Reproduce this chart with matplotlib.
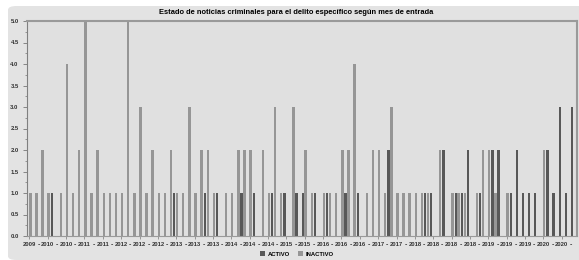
import matplotlib
matplotlib.use("Agg")
import matplotlib.pyplot as plt
from matplotlib.patches import FancyBboxPatch, Patch
import numpy as np

# month-of-entry buckets (one per bar group), labels shown every 3rd group
tick_years = ["2009", "2010", "2010", "2011", "2011", "2012", "2012", "2012", "2013", "2013",
              "2013", "2014", "2014", "2014", "2015", "2015", "2016", "2016", "2016", "2017",
              "2017", "2018", "2018", "2018", "2018", "2019", "2019", "2019", "2020", "2020"]

inactivo = [1, 1, 2, 1, 0, 1, 4, 1, 2, 5,
            1, 2, 1, 1, 1, 1, 5, 1, 3, 1,
            2, 1, 1, 2, 1, 1, 3, 1, 2, 2,
            1, 0, 1, 1, 2, 2, 2, 0, 2, 1,
            3, 1, 0, 3, 0, 2, 1, 0, 1, 1,
            1, 2, 2, 4, 0, 1, 2, 2, 1, 3,
            1, 1, 1, 1, 1, 1, 0, 2, 0, 1,
            1, 1, 0, 1, 2, 2, 1, 0, 1, 0,
            0, 0, 0, 0, 2, 0, 0, 0, 0, 0]

activo = [0, 0, 0, 1, 0, 0, 0, 0, 0, 0,
          0, 0, 0, 0, 0, 0, 0, 0, 0, 0,
          0, 0, 0, 1, 0, 0, 0, 0, 1, 0,
          1, 0, 0, 0, 1, 0, 1, 0, 0, 1,
          0, 1, 0, 1, 1, 0, 1, 0, 1, 0,
          0, 1, 0, 1, 0, 0, 0, 0, 2, 0,
          0, 0, 0, 0, 1, 1, 0, 2, 0, 1,
          1, 2, 0, 1, 0, 2, 2, 0, 1, 2,
          1, 1, 1, 0, 2, 1, 3, 1, 3, 0]

light = "#969696"
dark = "#585858"
font = ["Liberation Sans Narrow", "Liberation Sans", "DejaVu Sans"]

fig = plt.figure(figsize=(5.79, 2.6), dpi=100)
fig.patch.set_facecolor("white")
bg = FancyBboxPatch((8 / 579, 0), 1.0, 1 - 6 / 260, boxstyle="round,pad=0,rounding_size=0.015",
                    transform=fig.transFigure, facecolor="#e3e3e3", edgecolor="none", zorder=-10)
fig.patches.append(bg)

ax = fig.add_axes([27 / 579, 1 - 236 / 260, 550 / 579, 215 / 260])
ax.set_facecolor("#e0e0e0")
ax.set_zorder(5)

x = np.arange(len(inactivo))
w = 0.4
ax.bar(x - 0.25, inactivo, width=w, color=light, zorder=2)
ax.bar(x + 0.28, activo, width=w, color=dark, zorder=2)

ax.set_xlim(-0.79, 89.1)
ax.set_ylim(0, 5.0)
ax.set_yticks(np.arange(0, 5.01, 0.5))
ax.set_yticks(np.arange(0, 5.01, 0.25), minor=True)
ax.set_yticklabels(["%.1f" % v for v in np.arange(0, 5.01, 0.5)],
                   fontsize=4.2, fontweight="bold", family=font, color="#333333")
ax.tick_params(axis="y", which="major", length=3, width=0.6, color="#777777", pad=3)
ax.tick_params(axis="y", which="minor", length=1.8, width=0.5, color="#777777")

major_pos = np.arange(0, 90, 3) - 0.4
ax.set_xticks(major_pos)
ax.set_xticklabels(tick_years, fontsize=4.2, fontweight="bold", family=font, color="#333333")
ax.tick_params(axis="x", which="major", length=2, width=0.5, color="#777777", pad=2)
# separators between the year labels
for p in major_pos + 1.5:
    ax.text(p, -0.022, "-", transform=ax.get_xaxis_transform(), ha="center", va="top",
            fontsize=5, fontweight="bold", family=font, color="#333333", clip_on=False)

for s in ["top", "right"]:
    ax.spines[s].set_color("#9a9a9a")
    ax.spines[s].set_linewidth(1.5)
ax.spines["left"].set_color("#808080")
ax.spines["left"].set_linewidth(0.8)
ax.spines["bottom"].set_color("#9a9a9a")
ax.spines["bottom"].set_linewidth(0.8)

fig.text(296 / 579, 1 - 12 / 260,
         "Estado de noticias criminales para el delito específico según mes de entrada",
         ha="center", va="center", fontsize=5.4, fontweight="heavy", family=font, color="black")

handles = [Patch(facecolor=dark, label="ACTIVO"), Patch(facecolor=light, label="INACTIVO")]
leg = fig.legend(handles=handles, loc="center", bbox_to_anchor=(297 / 579, 1 - 254 / 260),
                 ncol=2, frameon=False, prop={"size": 4.2, "weight": "bold", "family": font},
                 handlelength=0.9, handleheight=0.9, handletextpad=0.5, columnspacing=1.2)

fig.savefig("out.png", dpi=100)
